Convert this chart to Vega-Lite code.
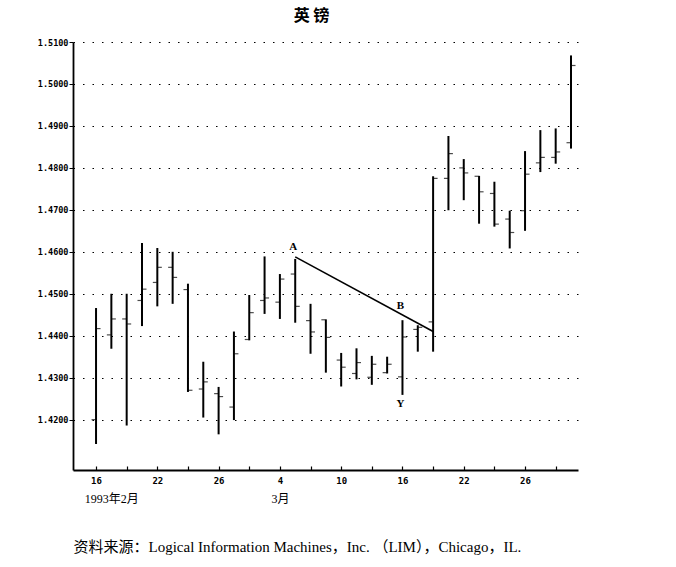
{
  "$schema": "https://vega.github.io/schema/vega-lite/v6.json",
  "width": 505,
  "height": 428,
  "autosize": "none",
  "padding": {"left": 73, "top": 42, "right": 98, "bottom": 97},
  "background": "white",
  "title": {
    "text": "英 镑",
    "font": "Noto Sans CJK SC",
    "fontSize": 16,
    "fontWeight": "bold",
    "color": "black",
    "offset": 14,
    "dx": -14
  },
  "config": {
    "view": {"stroke": null},
    "axis": {
      "domainColor": "black",
      "tickColor": "black",
      "labelColor": "black",
      "titleColor": "black"
    }
  },
  "resolve": {"axis": {"x": "independent"}},
  "data": {
    "values": [
      {"d": "1993-02-16", "o": 1.4200, "h": 1.4466, "l": 1.4142, "c": 1.4417},
      {"d": "1993-02-17", "o": 1.4402, "h": 1.4500, "l": 1.4369, "c": 1.4440},
      {"d": "1993-02-18", "o": 1.4440, "h": 1.4500, "l": 1.4186, "c": 1.4428},
      {"d": "1993-02-19", "o": 1.4484, "h": 1.4621, "l": 1.4423, "c": 1.4511},
      {"d": "1993-02-22", "o": 1.4527, "h": 1.4609, "l": 1.4470, "c": 1.4563},
      {"d": "1993-02-23", "o": 1.4563, "h": 1.4600, "l": 1.4476, "c": 1.4539},
      {"d": "1993-02-24", "o": 1.4510, "h": 1.4524, "l": 1.4266, "c": 1.4270},
      {"d": "1993-02-25", "o": 1.4273, "h": 1.4338, "l": 1.4205, "c": 1.4290},
      {"d": "1993-02-26", "o": 1.4262, "h": 1.4278, "l": 1.4165, "c": 1.4255},
      {"d": "1993-03-01", "o": 1.4230, "h": 1.4410, "l": 1.4199, "c": 1.4357},
      {"d": "1993-03-02", "o": 1.4391, "h": 1.4497, "l": 1.4389, "c": 1.4455},
      {"d": "1993-03-03", "o": 1.4484, "h": 1.4589, "l": 1.4452, "c": 1.4490},
      {"d": "1993-03-04", "o": 1.4480, "h": 1.4547, "l": 1.4440, "c": 1.4535},
      {"d": "1993-03-05", "o": 1.4547, "h": 1.4583, "l": 1.4431, "c": 1.4470},
      {"d": "1993-03-08", "o": 1.4436, "h": 1.4476, "l": 1.4357, "c": 1.4409},
      {"d": "1993-03-09", "o": 1.4438, "h": 1.4439, "l": 1.4312, "c": 1.4396},
      {"d": "1993-03-10", "o": 1.4342, "h": 1.4359, "l": 1.4279, "c": 1.4325},
      {"d": "1993-03-11", "o": 1.4310, "h": 1.4370, "l": 1.4296, "c": 1.4336},
      {"d": "1993-03-12", "o": 1.4301, "h": 1.4352, "l": 1.4283, "c": 1.4332},
      {"d": "1993-03-15", "o": 1.4312, "h": 1.4350, "l": 1.4310, "c": 1.4332},
      {"d": "1993-03-16", "o": 1.4302, "h": 1.4437, "l": 1.4259, "c": 1.4397},
      {"d": "1993-03-17", "o": 1.4415, "h": 1.4425, "l": 1.4362, "c": 1.4420},
      {"d": "1993-03-18", "o": 1.4433, "h": 1.4780, "l": 1.4362, "c": 1.4775},
      {"d": "1993-03-19", "o": 1.4775, "h": 1.4876, "l": 1.4699, "c": 1.4834},
      {"d": "1993-03-22", "o": 1.4800, "h": 1.4821, "l": 1.4723, "c": 1.4788},
      {"d": "1993-03-23", "o": 1.4780, "h": 1.4781, "l": 1.4667, "c": 1.4743},
      {"d": "1993-03-24", "o": 1.4739, "h": 1.4767, "l": 1.4660, "c": 1.4666},
      {"d": "1993-03-25", "o": 1.4678, "h": 1.4698, "l": 1.4608, "c": 1.4646},
      {"d": "1993-03-26", "o": 1.4698, "h": 1.4840, "l": 1.4650, "c": 1.4785},
      {"d": "1993-03-29", "o": 1.4812, "h": 1.4890, "l": 1.4790, "c": 1.4825},
      {"d": "1993-03-30", "o": 1.4825, "h": 1.4894, "l": 1.4810, "c": 1.4838},
      {"d": "1993-03-31", "o": 1.4860, "h": 1.5068, "l": 1.4846, "c": 1.5044}
    ]
  },
  "layer": [
    {
      "mark": {"type": "rule", "color": "black", "strokeWidth": 2},
      "encoding": {
        "x": {
          "field": "d",
          "type": "ordinal",
          "scale": {"type": "point", "padding": 0.98, "align": 0.767},
          "axis": {
            "orient": "bottom",
            "title": null,
            "values": ["1993-02-16", "1993-02-18", "1993-02-22", "1993-02-24", "1993-02-26", "1993-03-02", "1993-03-04", "1993-03-08", "1993-03-10", "1993-03-12", "1993-03-16", "1993-03-18", "1993-03-22", "1993-03-24", "1993-03-26", "1993-03-30"],
            "labelExpr": "indexof(['1993-02-16', '1993-02-22', '1993-02-26', '1993-03-04', '1993-03-10', '1993-03-16', '1993-03-22', '1993-03-26'], datum.value) >= 0 ? '' + toNumber(substring(datum.value, 8, 10)) : ''",
            "labelAngle": 0,
            "labelFont": "DejaVu Sans Mono",
            "labelFontSize": 9,
            "labelFontWeight": "bold",
            "labelPadding": 10,
            "tickSize": -4,
            "tickWidth": 1.2,
            "domainWidth": 1.8,
            "grid": false
          }
        },
        "y": {
          "field": "l",
          "type": "quantitative",
          "scale": {"domain": [1.408, 1.51], "nice": false, "zero": false},
          "axis": {
            "title": null,
            "values": [1.42, 1.43, 1.44, 1.45, 1.46, 1.47, 1.48, 1.49, 1.5, 1.51],
            "format": ".4f",
            "labelFont": "DejaVu Sans Mono",
            "labelFontSize": 8.5,
            "labelFontWeight": "bold",
            "labelPadding": 1,
            "tickSize": 4,
            "tickWidth": 1,
            "domainWidth": 1.8,
            "grid": true,
            "gridColor": "black",
            "gridDash": [1.5, 8],
            "gridWidth": 1.2
          }
        },
        "y2": {"field": "h"}
      }
    },
    {
      "mark": {"type": "tick", "color": "black", "orient": "horizontal", "size": 4, "thickness": 1.2, "xOffset": -2.5},
      "encoding": {
        "x": {
          "field": "d",
          "type": "ordinal",
          "axis": {
            "orient": "bottom",
            "title": "资料来源：Logical Information Machines，Inc. （LIM），Chicago，IL.",
            "titleFont": "Liberation Serif, Noto Sans CJK SC",
            "titleFontSize": 15,
            "titleFontWeight": "normal",
            "titleAnchor": "start",
            "titleAlign": "left",
            "titlePadding": 35,
            "values": ["1993-02-17", "1993-03-04"],
            "labelExpr": "datum.value == '1993-02-17' ? '1993年2月' : '3月'",
            "labelAngle": 0,
            "labelFont": "Liberation Serif, Noto Sans CJK SC",
            "labelFontSize": 12,
            "labelFontWeight": "normal",
            "labelPadding": 23,
            "ticks": false,
            "domain": false,
            "grid": false
          }
        },
        "y": {"field": "o", "type": "quantitative"}
      }
    },
    {
      "mark": {"type": "tick", "color": "black", "orient": "horizontal", "size": 4, "thickness": 1.2, "xOffset": 2.5},
      "encoding": {
        "x": {"field": "d", "type": "ordinal", "axis": null},
        "y": {"field": "c", "type": "quantitative"}
      }
    },
    {
      "data": {
        "values": [
          {"d": "1993-03-05", "v": 1.4588},
          {"d": "1993-03-18", "v": 1.4410}
        ]
      },
      "mark": {"type": "line", "color": "black", "strokeWidth": 1.6},
      "encoding": {
        "x": {"field": "d", "type": "ordinal", "axis": null},
        "y": {"field": "v", "type": "quantitative"}
      }
    },
    {
      "data": {
        "values": [
          {"d": "1993-03-05", "v": 1.4612, "t": "A"},
          {"d": "1993-03-16", "v": 1.4471, "t": "B"},
          {"d": "1993-03-16", "v": 1.4238, "t": "Y"}
        ]
      },
      "mark": {"type": "text", "font": "Liberation Serif", "fontSize": 11, "fontWeight": "bold", "color": "black", "dx": -2},
      "encoding": {
        "x": {"field": "d", "type": "ordinal", "axis": null},
        "y": {"field": "v", "type": "quantitative"},
        "text": {"field": "t"}
      }
    }
  ]
}
